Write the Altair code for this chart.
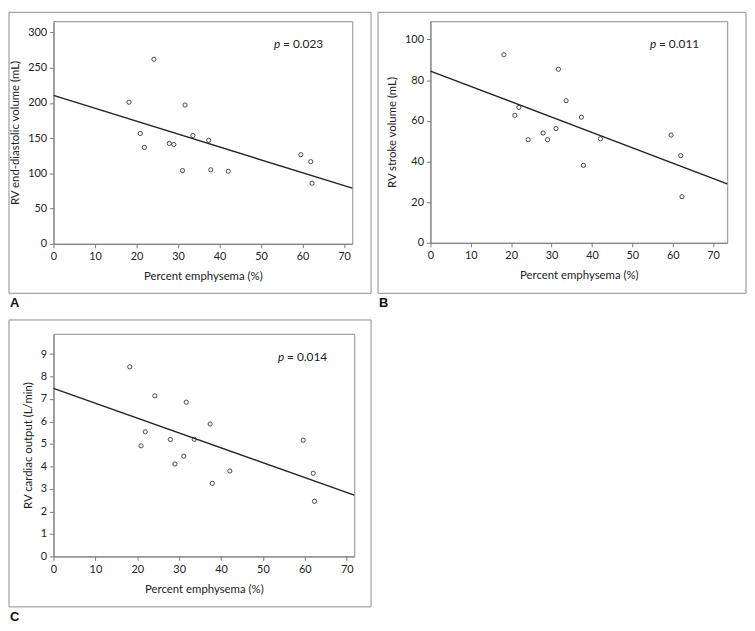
import altair as alt
import pandas as pd

# ---- data ----
pct_emphysema = [18.2, 20.9, 21.9, 24.2, 27.9, 29.0, 31.1, 31.7, 33.6, 37.4, 37.9, 42.1, 59.6, 62.0, 62.3]
rv_edv = [201, 156.6, 136.8, 262, 142.5, 141, 104, 197, 153.7, 147, 105, 103, 126.5, 116.6, 86]
rv_sv = [92.5, 62.7, 66.6, 50.7, 54, 50.7, 56.2, 85.4, 69.9, 61.8, 38.1, 51.2, 53, 42.9, 22.7]
rv_co = [8.43, 4.92, 5.54, 7.14, 5.2, 4.11, 4.46, 6.86, 5.21, 5.89, 3.25, 3.80, 5.17, 3.70, 2.45]

# regression line end points (x, y)
fit_a_x = [0, 72]
fit_a_y = [210.6, 79]
fit_b_x = [0, 73.5]
fit_b_y = [84.5, 29]
fit_c_x = [0, 71.8]
fit_c_y = [7.47, 2.73]

p_values = ["= 0.023", "= 0.011", "= 0.014"]
panel_letters = ["A", "B", "C"]
y_titles = ["RV end-diastolic volume (mL)", "RV stroke volume (mL)", "RV cardiac output (L/min)"]
x_title = "Percent emphysema (%)"
x_ticks = [0, 10, 20, 30, 40, 50, 60, 70]
y_ticks_a = [0, 50, 100, 150, 200, 250, 300]
y_ticks_b = [0, 20, 40, 60, 80, 100]
y_ticks_c = [0, 1, 2, 3, 4, 5, 6, 7, 8, 9]

FONT = "Lato"
AX = "#7a7a7a"
TXT = "#222222"
FRAME = "#8c8c8c"


def panel(ys, fx, fy, xmax, ymax, yticks, ytitle, pval, letter, w, h,
          fl, fr, ft, fb, px, py):
    pts = pd.DataFrame({"x": pct_emphysema, "y": ys})
    fit = pd.DataFrame({"x": fx, "y": fy})
    xs = alt.Scale(domain=[0, xmax], nice=False, zero=False)
    ysc = alt.Scale(domain=[0, ymax], nice=False, zero=False)
    xax = alt.Axis(values=x_ticks, title=x_title, grid=False, tickSize=4,
                   domainColor=AX, tickColor=AX, labelFont=FONT, labelFontSize=11,
                   labelColor=TXT, titleFont=FONT, titleFontSize=11.5,
                   titleFontWeight="normal", titleColor=TXT, labelPadding=3,
                   titlePadding=9, labelFlush=False, labelOverlap=False)
    yax = alt.Axis(values=yticks, title=ytitle, grid=False, tickSize=4,
                   domainColor=AX, tickColor=AX, labelFont=FONT, labelFontSize=11,
                   labelColor=TXT, titleFont=FONT, titleFontSize=11.5,
                   titleFontWeight="normal", titleColor=TXT, labelPadding=3,
                   titlePadding=7, labelOverlap=False, tickCount=len(yticks))
    points = alt.Chart(pts).mark_point(shape="circle", filled=False, size=18,
                                       strokeWidth=0.9, color="#333333", opacity=1).encode(
        x=alt.X("x:Q", scale=xs, axis=xax),
        y=alt.Y("y:Q", scale=ysc, axis=yax),
    )
    line = alt.Chart(fit).mark_line(color="#222222", strokeWidth=1.4).encode(
        x=alt.X("x:Q", scale=xs, axis=xax),
        y=alt.Y("y:Q", scale=ysc, axis=yax),
    )
    one = alt.Data(values=[{"k": 1}])
    frame = alt.Chart(one).mark_rect(filled=False, stroke=FRAME, strokeWidth=1).encode(
        x=alt.value(fl), x2=alt.value(w + fr), y=alt.value(ft), y2=alt.value(h + fb)
    )
    ptxt = alt.Chart(one).mark_text(text="p", font=FONT, fontSize=12, fontStyle="italic",
                                    align="left", baseline="alphabetic", color=TXT).encode(
        x=alt.value(px), y=alt.value(py)
    )
    vtxt = alt.Chart(one).mark_text(text=pval, font=FONT, fontSize=12,
                                    align="left", baseline="alphabetic", color=TXT).encode(
        x=alt.value(px + 9), y=alt.value(py)
    )
    lab = alt.Chart(one).mark_text(text=letter, font="Liberation Sans", fontSize=13,
                                   fontWeight="bold", align="left", baseline="alphabetic",
                                   color="#111111").encode(
        x=alt.value(fl + 1), y=alt.value(h + fb + 14)
    )
    return alt.layer(frame, line, points, ptxt, vtxt, lab).properties(width=w, height=h)


pa = panel(rv_edv, fit_a_x, fit_a_y, 72, 316, y_ticks_a, y_titles[0], p_values[0],
           panel_letters[0], 302, 225, -45, 19, -9, 50, 223, 27)
pb = panel(rv_sv, fit_b_x, fit_b_y, 73.5, 109, y_ticks_b, y_titles[1], p_values[1],
           panel_letters[1], 300, 224, -53, 19, -9, 51, 222, 27)
pc = panel(rv_co, fit_c_x, fit_c_y, 71.8, 9.9, y_ticks_c, y_titles[2], p_values[2],
           panel_letters[2], 304, 225, -45, 17, -14, 51, 227, 27)

chart = alt.vconcat(alt.hconcat(pa, pb, spacing=5), pc, spacing=8).properties(
    padding=0
).configure_view(stroke=FRAME, strokeWidth=1)

chart.save("out.html", embed_options={"renderer": "svg", "actions": False})
